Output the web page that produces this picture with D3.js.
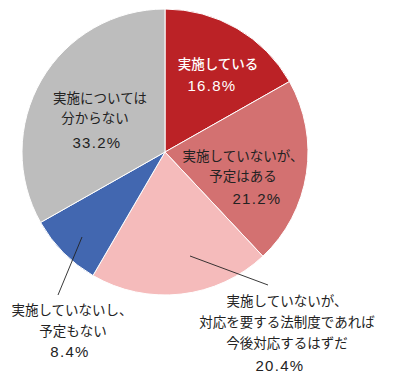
<!DOCTYPE html>
<html><head><meta charset="utf-8">
<script src="https://cdn.jsdelivr.net/npm/d3@7"></script>
<style>body{margin:0;background:#fff}svg{display:block}</style>
</head><body>
<script>
const categories = ["実施している","実施していないが、予定はある","実施していないが、対応を要する法制度であれば今後対応するはずだ","実施していないし、予定もない","実施については分からない"];
const values = [16.8, 21.2, 20.4, 8.4, 33.2];
const colors = ["#BB2226","#D37171","#F5BBBB","#4267B0","#BDBDBD"];
const labelLines = [
  ["実施している","16.8%"],
  ["実施していないが、","予定はある","21.2%"],
  ["実施していないが、","対応を要する法制度であれば","今後対応するはずだ","20.4%"],
  ["実施していないし、","予定もない","8.4%"],
  ["実施については","分からない","33.2%"]
];

const W=400,H=378, cx=165, cy=152, R=143;
const svg=d3.select("body").append("svg").attr("width",W).attr("height",H);
const g=svg.append("g").attr("transform",`translate(${cx},${cy})`);
const pie=d3.pie().sort(null).value(d=>d)(values);
const arc=d3.arc().innerRadius(0).outerRadius(R);
g.selectAll("path").data(pie).join("path")
  .attr("d",arc).attr("fill",(d,i)=>colors[i])
  .attr("stroke","#fff").attr("stroke-width",1);

// leader lines
const leaders=[
  {i:2, from:[190,256], to:[268,285]},
  {i:3, from:[82,237], to:[58,295]}
];
svg.selectAll("line.lead").data(leaders).join("line")
  .attr("x1",d=>d.from[0]).attr("y1",d=>d.from[1])
  .attr("x2",d=>d.to[0]).attr("y2",d=>d.to[1])
  .attr("stroke","#222").attr("stroke-width",0.9);

const labelPos=[
  {x:[218,212], y:[63,85], fill:"#fff"},
  {x:[243,243,257], y:[155,175,198], fill:"#222"},
  {x:[287,287,287,280], y:[300,321,342,365], fill:"#222"},
  {x:[72,73,70], y:[309,330,351], fill:"#222"},
  {x:[100,95,97], y:[97,117,142], fill:"#222"}
];
labelLines.forEach((lines,i)=>{
  const p=labelPos[i];
  lines.forEach((t,j)=>{
    const isPct = j===lines.length-1;
    svg.append("text").attr("x",p.x[j]).attr("y",p.y[j])
      .attr("text-anchor","middle").attr("dominant-baseline","central")
      .attr("font-family", isPct ? "'Liberation Sans', Arial, sans-serif" : "'Noto Sans CJK JP', sans-serif")
      .attr("font-size", isPct ? 15 : 13.5)
      .attr("letter-spacing", isPct ? 1.3 : 0)
      .attr("font-weight", i===0?500:400)
      .attr("fill",p.fill).text(t);
  });
});
</script>
</body></html>
